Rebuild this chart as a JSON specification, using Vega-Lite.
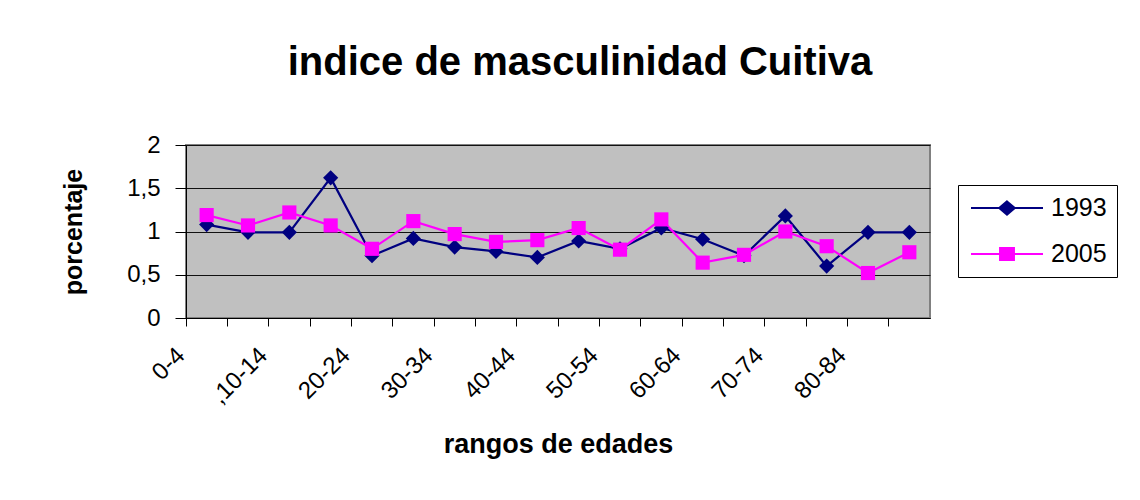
{
  "$schema": "https://vega.github.io/schema/vega-lite/v6.json",
  "autosize": "none",
  "width": 744,
  "height": 173,
  "padding": {"left": 186, "top": 145, "right": 210, "bottom": 182},
  "background": "white",
  "title": {
    "text": "indice de masculinidad Cuitiva",
    "font": "Liberation Sans",
    "fontSize": 40,
    "fontWeight": "bold",
    "color": "black",
    "anchor": "middle",
    "dx": 22,
    "offset": 50
  },
  "data": {
    "values": [
      {"age": "0-4", "year": "1993", "value": 1.08},
      {"age": "5-9", "year": "1993", "value": 0.99},
      {"age": ",10-14", "year": "1993", "value": 0.99},
      {"age": "15-19", "year": "1993", "value": 1.62},
      {"age": "20-24", "year": "1993", "value": 0.72},
      {"age": "25-29", "year": "1993", "value": 0.92},
      {"age": "30-34", "year": "1993", "value": 0.82},
      {"age": "35-39", "year": "1993", "value": 0.77},
      {"age": "40-44", "year": "1993", "value": 0.70},
      {"age": "45-49", "year": "1993", "value": 0.89},
      {"age": "50-54", "year": "1993", "value": 0.80},
      {"age": "55-59", "year": "1993", "value": 1.04},
      {"age": "60-64", "year": "1993", "value": 0.91},
      {"age": "65-69", "year": "1993", "value": 0.72},
      {"age": "70-74", "year": "1993", "value": 1.18},
      {"age": "75-79", "year": "1993", "value": 0.60},
      {"age": "80-84", "year": "1993", "value": 0.99},
      {"age": "85-89", "year": "1993", "value": 0.99},
      {"age": "0-4", "year": "2005", "value": 1.19},
      {"age": "5-9", "year": "2005", "value": 1.07},
      {"age": ",10-14", "year": "2005", "value": 1.22},
      {"age": "15-19", "year": "2005", "value": 1.07},
      {"age": "20-24", "year": "2005", "value": 0.80},
      {"age": "25-29", "year": "2005", "value": 1.12},
      {"age": "30-34", "year": "2005", "value": 0.97},
      {"age": "35-39", "year": "2005", "value": 0.88},
      {"age": "40-44", "year": "2005", "value": 0.90},
      {"age": "45-49", "year": "2005", "value": 1.04},
      {"age": "50-54", "year": "2005", "value": 0.79},
      {"age": "55-59", "year": "2005", "value": 1.14},
      {"age": "60-64", "year": "2005", "value": 0.64},
      {"age": "65-69", "year": "2005", "value": 0.73},
      {"age": "70-74", "year": "2005", "value": 1.00},
      {"age": "75-79", "year": "2005", "value": 0.83},
      {"age": "80-84", "year": "2005", "value": 0.52},
      {"age": "85-89", "year": "2005", "value": 0.76}
    ]
  },
  "encoding": {
    "x": {
      "field": "age",
      "type": "nominal",
      "sort": ["0-4","5-9",",10-14","15-19","20-24","25-29","30-34","35-39","40-44","45-49","50-54","55-59","60-64","65-69","70-74","75-79","80-84","85-89"],
      "scale": {"type": "band", "paddingInner": 0, "paddingOuter": 0},
      "axis": {
        "title": "rangos de edades",
        "titleFont": "Liberation Sans",
        "titleFontSize": 27,
        "titleFontWeight": "bold",
        "titleColor": "black",
        "titlePadding": 23,
        "bandPosition": 0,
        "labelAngle": -45,
        "labelAlign": "right",
        "labelBaseline": "bottom",
        "labelFont": "Liberation Sans",
        "labelFontSize": 24,
        "labelColor": "black",
        "labelPadding": 34,
        "labelOffset": -17,
        "labelOverlap": false,
        "labelExpr": "indexof(['0-4',',10-14','20-24','30-34','40-44','50-54','60-64','70-74','80-84'], datum.value) >= 0 ? datum.label : ''",
        "tickSize": 8,
        "tickColor": "black",
        "domainColor": "black",
        "grid": false
      }
    },
    "y": {
      "field": "value",
      "type": "quantitative",
      "scale": {"domain": [0, 2], "nice": false},
      "axis": {
        "title": "porcentaje",
        "titleFont": "Liberation Sans",
        "titleFontSize": 25,
        "titleFontWeight": "bold",
        "titleColor": "black",
        "titlePadding": 40,
        "values": [0, 0.5, 1, 1.5, 2],
        "labelExpr": "replace(format(datum.value, '~g'), '.', ',')",
        "labelFont": "Liberation Sans",
        "labelFontSize": 24,
        "labelColor": "black",
        "labelPadding": 15,
        "tickSize": 11,
        "tickColor": "black",
        "domainColor": "black",
        "grid": true,
        "gridColor": "#111111",
        "gridWidth": 1
      }
    },
    "color": {
      "field": "year",
      "type": "nominal",
      "scale": {"domain": ["1993", "2005"], "range": ["#000080", "#FF00FF"]},
      "legend": {
        "title": null,
        "orient": "none",
        "legendX": 772,
        "legendY": 40,
        "padding": 10,
        "strokeColor": "black",
        "fillColor": "white",
        "labelFont": "Liberation Sans",
        "labelFontSize": 25,
        "labelColor": "black",
        "symbolSize": 576,
        "symbolOffset": 26,
        "labelOffset": 31,
        "rowPadding": 20,
        "encode": {
          "symbols": {
            "update": {
              "shape": {"signal": "datum.value == '1993' ? 'M-3,0H3M0,-0.55L0.65,0L0,0.55L-0.65,0Z' : 'M-3,0H3M-0.58,-0.5H0.58V0.5H-0.58Z'"},
              "fill": {"signal": "datum.value == '1993' ? '#000080' : '#FF00FF'"},
              "stroke": {"signal": "datum.value == '1993' ? '#000080' : '#FF00FF'"},
              "strokeWidth": {"value": 2},
              "opacity": {"value": 1}
            }
          }
        }
      }
    }
  },
  "layer": [
    {
      "mark": {"type": "line", "strokeWidth": 2.2}
    },
    {
      "transform": [{"filter": "datum.year == '1993'"}],
      "mark": {"type": "point", "shape": "diamond", "filled": true, "size": 230, "opacity": 1}
    },
    {
      "transform": [{"filter": "datum.year == '2005'"}],
      "mark": {"type": "point", "shape": "square", "filled": true, "size": 200, "opacity": 1}
    }
  ],
  "config": {
    "view": {"fill": "#C0C0C0", "stroke": "#808080", "strokeWidth": 2}
  }
}
